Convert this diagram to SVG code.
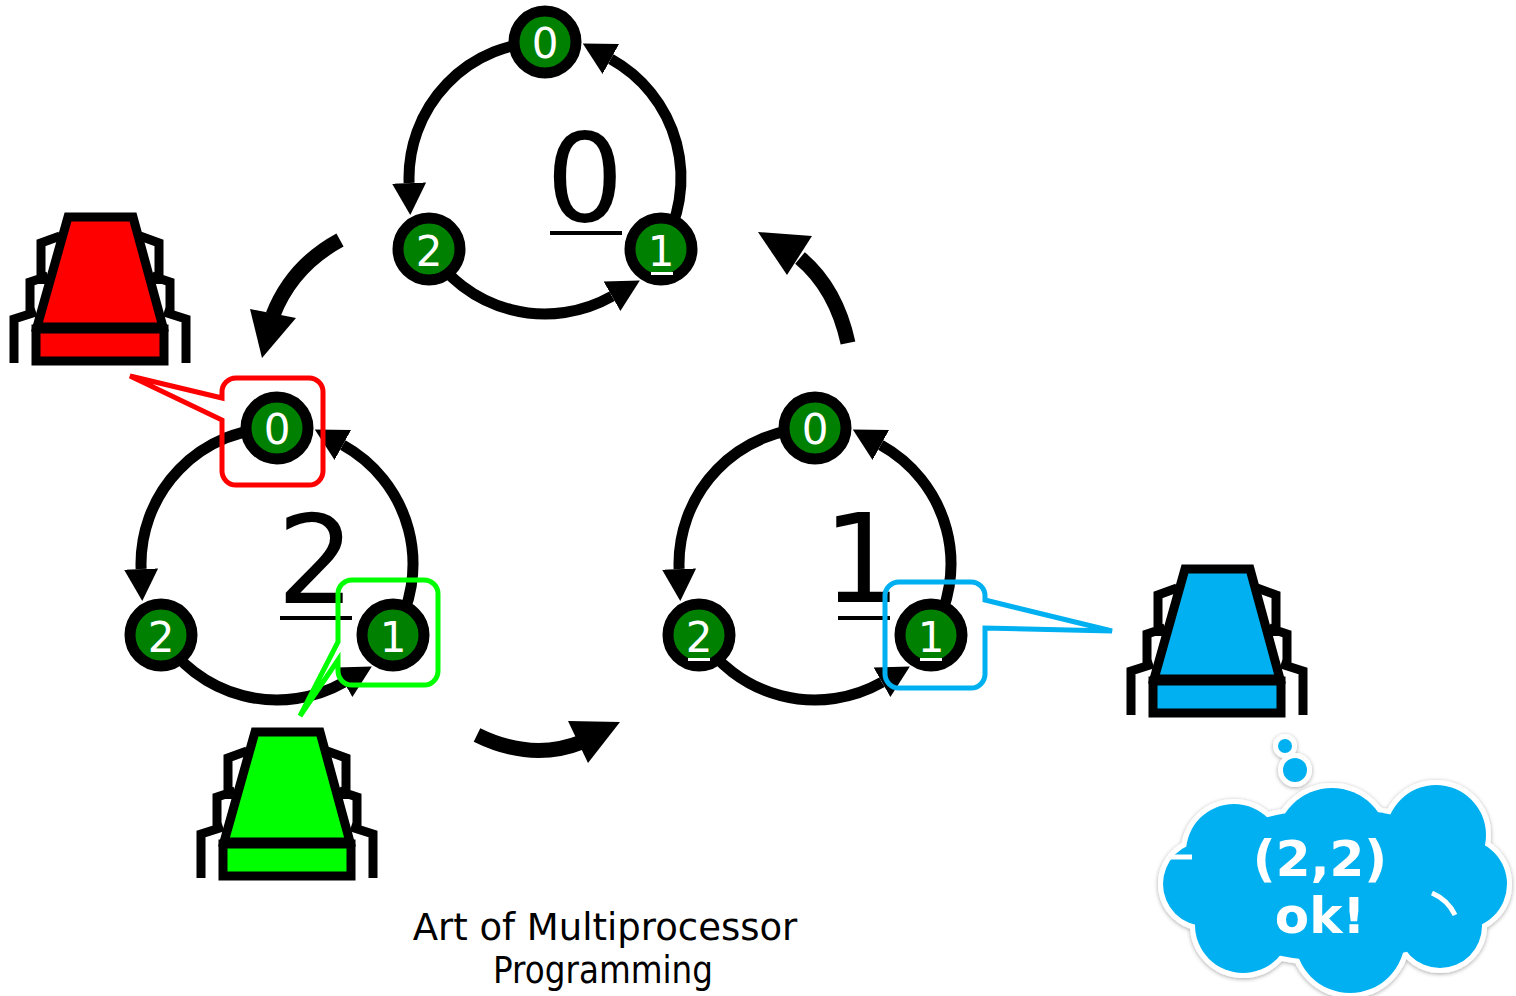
<svg xmlns="http://www.w3.org/2000/svg" width="1516" height="996" viewBox="0 0 1516 996">
  <style>
    .arc { fill: none; stroke: #000; stroke-width: 11; marker-end: url(#ah); }
    .node circle { fill: #008000; stroke: #000; stroke-width: 11; }
    .lbl { font-family: "DejaVu Sans", sans-serif; font-size: 42px; fill: #fff; text-anchor: middle; }
    .uline { fill: #fff; }
    .big { font-family: "DejaVu Sans", sans-serif; font-size: 123px; fill: #000; text-anchor: middle; }
    .bar { fill: #000; }
    .call { fill: none; stroke-width: 5; }
    .leg { fill: none; stroke: #000; stroke-width: 9; stroke-linejoin: miter; }
    .body { stroke: #000; stroke-width: 9; stroke-linejoin: miter; }
    .move { fill: none; stroke: #000; stroke-width: 15; }
    .cloudtxt { font-family: "DejaVu Sans", sans-serif; font-weight: bold; font-size: 50px; fill: #fff; text-anchor: middle; }
    .caption { font-family: "DejaVu Sans", sans-serif; font-size: 37px; fill: #000; text-anchor: middle; }
  </style>
  <defs>
    <marker id="ah" markerUnits="userSpaceOnUse" markerWidth="34" markerHeight="38" viewBox="0 -19 34 38" refX="0" refY="0" orient="auto">
      <path d="M0,-17 L32,0 L0,17 Z" fill="#000"/>
    </marker>
    <!-- three-arc ring, drawn around the origin -->
    <g id="ring">
      <path class="arc" d="M0,-136 A136,136 0 0 0 -135.9,5"/>
      <path class="arc" d="M-116,71 A136,136 0 0 0 67,118.3"/>
      <path class="arc" d="M116,71 A136,136 0 0 0 65.8,-119"/>
    </g>
    <!-- robot: legs, trapezoid body, base plate -->
    <g id="robot">
      <path class="leg" d="M60,236 L41,243 L41,284 M48,276 L30,282 L30,317 M36,312 L14,319 L14,363"/>
      <path class="leg" d="M140,236 L159,243 L159,284 M152,276 L170,282 L170,317 M164,312 L186,319 L186,363"/>
      <polygon class="body" points="68,217 133,217 163,327 37,327"/>
      <rect class="body" x="36" y="329" width="128" height="32"/>
    </g>
    <filter id="soft" x="-10%" y="-10%" width="120%" height="120%">
      <feDropShadow dx="0" dy="1" stdDeviation="2" flood-color="#000" flood-opacity="0.35"/>
    </filter>
  </defs>

  <rect width="1516" height="996" fill="#fff"/>

  <!-- ring connectors -->
  <g id="connectors">
    <use href="#ring" transform="translate(545,178)"/>
    <use href="#ring" transform="translate(277,564)"/>
    <use href="#ring" transform="translate(815,564)"/>
    <!-- moves between rings -->
    <path class="move" d="M340,240 Q292,266 273,315"/>
    <polygon points="250,309 296,318 262,358" fill="#000"/>
    <path class="move" d="M848,343 Q836,288 800,258"/>
    <polygon points="758,232 812,236 787,275" fill="#000"/>
    <path class="move" d="M477,735 Q532,762 582,742"/>
    <polygon points="568,721 620,722 588,763" fill="#000"/>
  </g>

  <!-- top ring -->
  <g id="top-n0" class="node"><circle cx="545" cy="42" r="31"/><text class="lbl" x="545" y="58">0</text></g>
  <g id="top-n2" class="node"><circle cx="429" cy="249" r="31"/><text class="lbl" x="429" y="266">2</text></g>
  <g id="top-n1" class="node"><circle cx="661" cy="249" r="31"/><text class="lbl" x="661" y="266">1</text><rect class="uline" x="651" y="272" width="22" height="3"/></g>
  <g id="top-value"><text class="big" x="585" y="221">0</text><rect class="bar" x="550" y="231" width="72" height="4"/></g>

  <!-- left ring -->
  <g id="left-n0" class="node"><circle cx="277" cy="428" r="31"/><text class="lbl" x="277" y="444">0</text></g>
  <g id="left-n2" class="node"><circle cx="161" cy="635" r="31"/><text class="lbl" x="161" y="652">2</text></g>
  <g id="left-n1" class="node"><circle cx="393" cy="635" r="31"/><text class="lbl" x="393" y="652">1</text></g>
  <g id="left-value"><text class="big" x="316" y="603">2</text><rect class="bar" x="280" y="616" width="72" height="4"/></g>

  <!-- right ring -->
  <g id="right-n0" class="node"><circle cx="815" cy="428" r="31"/><text class="lbl" x="815" y="444">0</text></g>
  <g id="right-n2" class="node"><circle cx="699" cy="635" r="31"/><text class="lbl" x="699" y="652">2</text><rect class="uline" x="688" y="658" width="22" height="3"/></g>
  <g id="right-n1" class="node"><circle cx="931" cy="635" r="31"/><text class="lbl" x="931" y="652">1</text><rect class="uline" x="920" y="658" width="22" height="3"/></g>
  <g id="right-value"><text class="big" x="862" y="602">1</text><rect class="bar" x="838" y="616" width="52" height="4"/></g>

  <!-- pointers from each robot to the node it sits on -->
  <g id="red-callout"><path class="call" stroke="#ff0000" d="M236,378 H309 A14,14 0 0 1 323,392 V471 A14,14 0 0 1 309,485 H236 A14,14 0 0 1 222,471 V420 L130,376 L222,398 V392 A14,14 0 0 1 236,378 Z"/></g>
  <g id="green-callout"><path class="call" stroke="#00ff00" d="M352,580 H424 A14,14 0 0 1 438,594 V671 A14,14 0 0 1 424,685 H352 A14,14 0 0 1 338,671 V660 L300,716 L338,642 V594 A14,14 0 0 1 352,580 Z"/></g>
  <g id="blue-callout"><path class="call" stroke="#00b0f0" d="M899,582 H971 A14,14 0 0 1 985,596 V600 L1112,631 L985,628 V674 A14,14 0 0 1 971,688 H899 A14,14 0 0 1 885,674 V596 A14,14 0 0 1 899,582 Z"/></g>

  <!-- robots -->
  <g id="red-robot"><use href="#robot" fill="#ff0000"/></g>
  <g id="green-robot"><use href="#robot" fill="#00ff00" transform="translate(187,515)"/></g>
  <g id="blue-robot"><use href="#robot" fill="#00b0f0" transform="translate(1117,352)"/></g>

  <!-- thought cloud -->
  <g id="thought" filter="url(#soft)">
    <g fill="#fff" stroke="#fff" stroke-width="10">
      <circle cx="1285" cy="746" r="7"/>
      <circle cx="1295" cy="770" r="12"/>
      <circle cx="1234" cy="852" r="48"/>
      <circle cx="1332" cy="844" r="56"/>
      <circle cx="1436" cy="835" r="50"/>
      <circle cx="1462" cy="884" r="45"/>
      <circle cx="1440" cy="926" r="42"/>
      <circle cx="1350" cy="938" r="55"/>
      <circle cx="1243" cy="925" r="48"/>
      <circle cx="1205" cy="884" r="42"/>
      <ellipse cx="1335" cy="885" rx="150" ry="76"/>
    </g>
    <g fill="#00b0f0">
      <circle cx="1285" cy="746" r="7"/>
      <circle cx="1295" cy="770" r="12"/>
      <circle cx="1234" cy="852" r="48"/>
      <circle cx="1332" cy="844" r="56"/>
      <circle cx="1436" cy="835" r="50"/>
      <circle cx="1462" cy="884" r="45"/>
      <circle cx="1440" cy="926" r="42"/>
      <circle cx="1350" cy="938" r="55"/>
      <circle cx="1243" cy="925" r="48"/>
      <circle cx="1205" cy="884" r="42"/>
      <ellipse cx="1335" cy="885" rx="150" ry="76"/>
    </g>
    <g fill="none" stroke="#fff" stroke-width="5">
      <path d="M1432,893 Q1448,900 1455,915"/>
      <path d="M1168,857 L1192,857"/>
    </g>
    <text class="cloudtxt" x="1320" y="876">(2,2)</text>
    <text class="cloudtxt" x="1320" y="933">ok!</text>
  </g>

  <!-- caption -->
  <g id="caption">
    <text class="caption" x="605" y="940">Art of Multiprocessor</text>
    <text class="caption" x="603" y="983" textLength="220" lengthAdjust="spacingAndGlyphs">Programming</text>
  </g>
</svg>
